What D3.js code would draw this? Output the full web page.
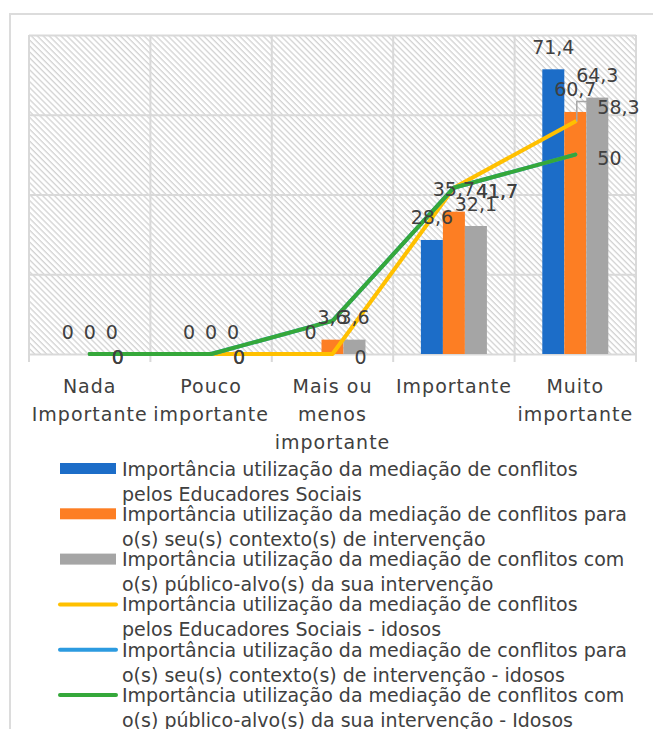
<!DOCTYPE html>
<html>
<head>
<meta charset="utf-8">
<script src="https://cdn.jsdelivr.net/npm/d3@7"></script>
<style>
body { margin: 0; background: #fff; }
text { font-family: "DejaVu Sans", sans-serif; fill: #404040; font-size: 19px; }
</style>
</head>
<body>
<svg id="chart" width="653" height="729"></svg>
<script>
// ---------------- DATA
var categories = ["Nada Importante", "Pouco importante", "Mais ou menos importante", "Importante", "Muito importante"];
var categoryLines = [["Nada", "Importante"], ["Pouco", "importante"], ["Mais ou", "menos", "importante"], ["Importante"], ["Muito", "importante"]];

var educadores = [0, 0, 0, 28.6, 71.4];
var contexto = [0, 0, 3.6, 35.7, 60.7];
var publico = [0, 0, 3.6, 32.1, 64.3];
var educadoresIdosos = [0, 0, 0, 41.7, 58.3];
var contextoIdosos = [0, 0, 8.3, 41.7, 50];
var publicoIdosos = [0, 0, 8.3, 41.7, 50];

var yTicks = [0, 20, 40, 60, 80];

var legendLines = [
  ["Importância utilização da mediação de conflitos", "pelos Educadores Sociais"],
  ["Importância utilização da mediação de conflitos para", "o(s) seu(s) contexto(s) de intervenção"],
  ["Importância utilização da mediação de conflitos com", "o(s) público-alvo(s) da sua intervenção"],
  ["Importância utilização da mediação de conflitos", "pelos Educadores Sociais - idosos"],
  ["Importância utilização da mediação de conflitos para", "o(s) seu(s) contexto(s) de intervenção - idosos"],
  ["Importância utilização da mediação de conflitos com", "o(s) público-alvo(s) da sua intervenção - Idosos"]
];

// ---------------- SERIES SETUP (styles)
var barSeries = [
  {key: "educadores", values: educadores, color: "#1c6dc8"},
  {key: "contexto", values: contexto, color: "#fd7e23"},
  {key: "publico", values: publico, color: "#a5a5a5"}
];
var lineSeries = [
  {key: "educadoresIdosos", values: educadoresIdosos, color: "#ffc000", showLabel: [1, 1, 1, 1, 1], labelShift: [0, 0, 0, 0, -18]},
  {key: "contextoIdosos", values: contextoIdosos, color: "#2c9be0", showLabel: [0, 0, 0, 0, 0], labelShift: [0, 0, 0, 0, 0]},
  {key: "publicoIdosos", values: publicoIdosos, color: "#35a83a", showLabel: [1, 1, 0, 1, 1], labelShift: [0, 0, 0, 0, 0]}
];

var fmt = function(v){ return String(v).replace(".", ","); };

var svg = d3.select("#chart");
var plot = {left: 29, right: 636, top: 35, bottom: 354};
var gridColor = "#d9d9d9";

// outer chart frame
svg.append("rect")
  .attr("x", 10).attr("y", 14)
  .attr("width", 700).attr("height", 760)
  .attr("fill", "none")
  .attr("stroke", "#dcdcdc")
  .attr("stroke-width", 2);

// hatch pattern
var defs = svg.append("defs");
var pat = defs.append("pattern")
  .attr("id", "hatch")
  .attr("patternUnits", "userSpaceOnUse")
  .attr("width", 4.2).attr("height", 4.2)
  .attr("patternTransform", "rotate(-45)");
pat.append("line")
  .attr("x1", 1).attr("y1", 0).attr("x2", 1).attr("y2", 4.2)
  .attr("stroke", "#d2d2d2")
  .attr("stroke-width", 1.3);

// ---------------- SCALES
var x = d3.scaleBand()
  .domain(categories)
  .range([plot.left, plot.right]);

var y = d3.scaleLinear()
  .domain([0, 80])
  .range([plot.bottom, plot.top]);

var barW = 22;
var xSub = d3.scaleBand()
  .domain(barSeries.map(function(s){ return s.key; }))
  .range([x.bandwidth() / 2 - barW * 1.5, x.bandwidth() / 2 + barW * 1.5]);

// plot background
svg.append("rect")
  .attr("x", plot.left).attr("y", plot.top)
  .attr("width", plot.right - plot.left)
  .attr("height", plot.bottom - plot.top)
  .attr("fill", "url(#hatch)");

// ---------------- GRID
var yGrid = svg.append("g")
  .attr("transform", "translate(" + plot.left + ",0)")
  .call(d3.axisLeft(y).tickValues(yTicks).tickSize(-(plot.right - plot.left)).tickFormat(""));
yGrid.select(".domain").remove();
yGrid.selectAll("line").attr("stroke", gridColor).attr("stroke-width", 2);

var bounds = categories.map(function(c){ return x(c); }).concat([plot.right]);
svg.append("g").selectAll("line.vgrid")
  .data(bounds)
  .enter().append("line")
  .attr("class", "vgrid")
  .attr("x1", function(d){ return d; })
  .attr("x2", function(d){ return d; })
  .attr("y1", plot.top)
  .attr("y2", plot.bottom + 8)
  .attr("stroke", gridColor)
  .attr("stroke-width", 2);

// ---------------- BARS
barSeries.forEach(function(s){
  svg.append("g").selectAll("rect")
    .data(s.values)
    .enter().append("rect")
    .attr("x", function(d, i){ return x(categories[i]) + xSub(s.key); })
    .attr("y", function(d){ return y(d); })
    .attr("width", xSub.bandwidth())
    .attr("height", function(d){ return y(0) - y(d); })
    .attr("fill", s.color);
});

// ---------------- LINES
var line = d3.line()
  .x(function(d, i){ return x(categories[i]) + x.bandwidth() / 2; })
  .y(function(d){ return y(d); });

lineSeries.forEach(function(s){
  svg.append("path")
    .attr("fill", "none")
    .attr("stroke", s.color)
    .attr("stroke-width", 4)
    .attr("stroke-linejoin", "round")
    .attr("stroke-linecap", "round")
    .attr("d", line(s.values));
});

// ---------------- DATA LABELS
barSeries.forEach(function(s){
  svg.append("g").selectAll("text")
    .data(s.values)
    .enter().append("text")
    .attr("text-anchor", "middle")
    .attr("x", function(d, i){ return x(categories[i]) + xSub(s.key) + xSub.bandwidth() / 2; })
    .attr("y", function(d){ return y(d) - 15.5; })
    .text(fmt);
});

lineSeries.forEach(function(s){
  var g = svg.append("g");
  s.values.forEach(function(v, i){
    if (!s.showLabel[i]) return;
    var px = x(categories[i]) + x.bandwidth() / 2;
    var py = y(v);
    var shift = s.labelShift[i];
    if (shift !== 0) {
      // leader line to moved label
      g.append("path")
        .attr("fill", "none")
        .attr("stroke", "#a6a6a6")
        .attr("stroke-width", 1.5)
        .attr("d", "M" + (px + 1.5) + "," + py + "V" + (py + shift - 2) + "H" + (px + 13));
    }
    g.append("text")
      .attr("x", px + 22)
      .attr("y", py + 10 + shift)
      .text(fmt(v));
  });
});

// ---------------- CATEGORY LABELS
var catG = svg.append("g");
categories.forEach(function(c, i){
  var t = catG.append("text")
    .attr("text-anchor", "middle")
    .attr("letter-spacing", "1px")
    .attr("x", x(c) + x.bandwidth() / 2)
    .attr("y", 393);
  categoryLines[i].forEach(function(l, j){
    t.append("tspan")
      .attr("x", x(c) + x.bandwidth() / 2)
      .attr("dy", j === 0 ? 0 : 28)
      .text(l);
  });
});

// ---------------- LEGEND
var allSeries = barSeries.map(function(s){ return {color: s.color, type: "bar"}; })
  .concat(lineSeries.map(function(s){ return {color: s.color, type: "line"}; }));

var legend = svg.append("g").selectAll("g")
  .data(allSeries)
  .enter().append("g")
  .attr("transform", function(d, i){ return "translate(0," + (468.5 + i * 45.3) + ")"; });

legend.filter(function(d){ return d.type === "bar"; })
  .append("rect")
  .attr("x", 60).attr("y", -5.5)
  .attr("width", 56).attr("height", 11)
  .attr("fill", function(d){ return d.color; });

legend.filter(function(d){ return d.type === "line"; })
  .append("line")
  .attr("x1", 60).attr("x2", 116)
  .attr("y1", 0).attr("y2", 0)
  .attr("stroke", function(d){ return d.color; })
  .attr("stroke-width", 4)
  .attr("stroke-linecap", "round");

legend.append("text")
  .attr("x", 122)
  .attr("y", 7)
  .each(function(d, i){
    var t = d3.select(this);
    legendLines[i].forEach(function(l, j){
      t.append("tspan")
        .attr("x", 122)
        .attr("dy", j === 0 ? 0 : 25)
        .text(l);
    });
  });
</script>
</body>
</html>
